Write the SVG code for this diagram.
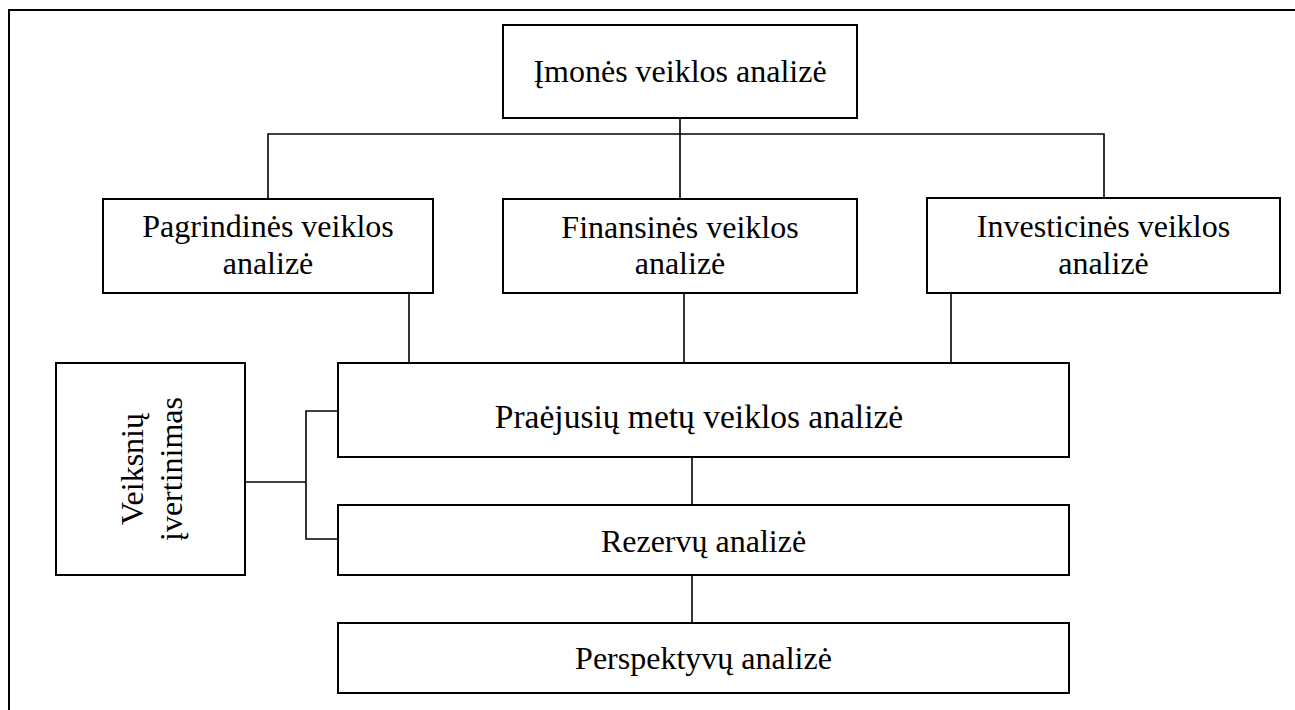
<svg xmlns="http://www.w3.org/2000/svg" width="1295" height="710" viewBox="0 0 1295 710">
  <style>
    .box { fill: #ffffff; stroke: #000000; stroke-width: 2; }
    .wire { fill: none; stroke: #000000; stroke-width: 1.6; }
    .frame { fill: none; stroke: #000000; stroke-width: 2; }
    text { font-family: "Liberation Serif", "Times New Roman", serif; font-size: 32px; fill: #000000; text-anchor: middle; }
    .wide { font-size: 33.5px; }
  </style>
  <rect x="0" y="0" width="1295" height="710" fill="#ffffff"/>
  <!-- outer frame (only top and left edges fall inside the page) -->
  <path class="frame" d="M9,712 V10 H1297"/>

  <g id="connectors">
    <path class="wire" d="M680,118 V199"/>
    <path class="wire" d="M268,199 V134 H1104 V198"/>
    <path class="wire" d="M409,293 V363"/>
    <path class="wire" d="M684,293 V363"/>
    <path class="wire" d="M951,293 V363"/>
    <path class="wire" d="M245,482 H306"/>
    <path class="wire" d="M338,411 H306 V539 H338"/>
    <path class="wire" d="M692,457 V505"/>
    <path class="wire" d="M692,575 V623"/>
  </g>

  <g id="imones-veiklos-analize">
    <rect class="box" x="503" y="25" width="354" height="93"/>
    <text x="680" y="82">Įmonės veiklos analizė</text>
  </g>

  <g id="pagrindines-veiklos-analize">
    <rect class="box" x="103" y="199" width="330" height="94"/>
    <text x="268" y="237">Pagrindinės veiklos</text>
    <text x="268" y="274">analizė</text>
  </g>

  <g id="finansines-veiklos-analize">
    <rect class="box" x="503" y="199" width="354" height="94"/>
    <text x="680" y="238">Finansinės veiklos</text>
    <text x="680" y="274">analizė</text>
  </g>

  <g id="investicines-veiklos-analize">
    <rect class="box" x="927" y="198" width="353" height="95"/>
    <text x="1103.5" y="237">Investicinės veiklos</text>
    <text x="1103.5" y="274">analizė</text>
  </g>

  <g id="veiksniu-ivertinimas">
    <rect class="box" x="56" y="363" width="189" height="212"/>
    <text transform="translate(143,469) rotate(-90)">Veiksnių</text>
    <text transform="translate(182,469) rotate(-90)">įvertinimas</text>
  </g>

  <g id="praejusiu-metu-veiklos-analize">
    <rect class="box" x="338" y="363" width="731" height="94"/>
    <text class="wide" x="699" y="428">Praėjusių metų veiklos analizė</text>
  </g>

  <g id="rezervu-analize">
    <rect class="box" x="338" y="505" width="731" height="70"/>
    <text x="703.5" y="552">Rezervų analizė</text>
  </g>

  <g id="perspektyvu-analize">
    <rect class="box" x="338" y="623" width="731" height="70"/>
    <text x="703.5" y="669">Perspektyvų analizė</text>
  </g>
</svg>
